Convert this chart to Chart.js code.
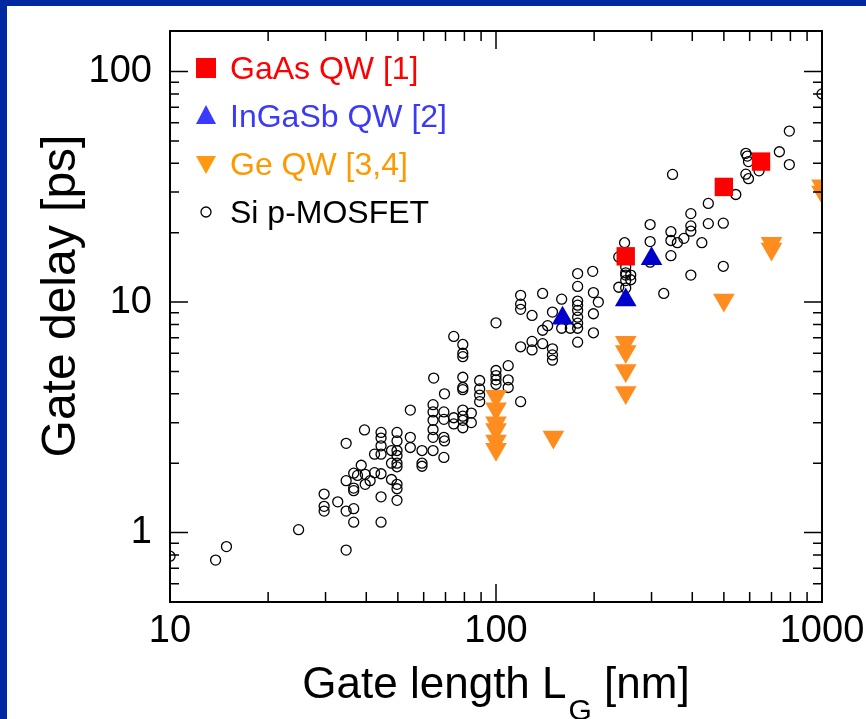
<!DOCTYPE html>
<html>
<head>
<meta charset="utf-8">
<script src="https://cdn.jsdelivr.net/npm/chart.js@4.4.1/dist/chart.umd.min.js"></script>
<style>
  html, body { margin: 0; padding: 0; }
  body { width: 866px; height: 719px; background: #0028a0; overflow: hidden; position: relative; }
  #panel { position: absolute; left: 7px; top: 6px; width: 859px; height: 713px; background: #fff; }
  canvas { display: block; }
</style>
</head>
<body>
<div id="panel"><canvas id="chart" width="859" height="713"></canvas></div>
<script>
// values (gate length nm, gate delay ps)
const seriesLabels = ['GaAs QW [1]', 'InGaSb QW [2]', 'Ge QW [3,4]', 'Si p-MOSFET'];

const gaasX = [250, 500, 650];
const gaasY = [15.8, 31.6, 40.7];

const ingasbX = [160, 250, 300];
const ingasbY = [8.5, 10.2, 15.4];

const geX = [100, 100, 100, 100, 100, 100, 150, 250, 250, 250, 250, 500, 700, 700, 1000, 1000];
const geY = [3.9, 3.45, 3.0, 2.8, 2.5, 2.3, 2.6, 6.7, 6.1, 5.05, 4.05, 10.2, 18, 17, 32, 30];

const siX = [10, 13.8, 14.9, 24.8, 34.7, 29.7, 29.7, 29.7, 32.7, 34.7, 34.7, 34.7, 36.6, 36.6, 36.6, 36.6,
  36.6, 38.6, 37.6, 39.7, 39.7, 41.1, 39.5, 42.4, 42.4, 44.4, 44.4, 44.4, 44.4, 44.4, 44.4, 44.4,
  47.8, 47.8, 47.8, 49.7, 49.7, 49.7, 49.7, 49.7, 49.7, 49.7, 49.7, 49.7, 54.6, 54.6, 54.6, 59.3,
  59.3, 59.3, 64.1, 64.1, 64.1, 64.1, 64.1, 64.1, 69.2, 69.2, 69.2, 69.2, 69.5, 74.2, 74.2, 79.1,
  79.1, 79.1, 79.1, 84, 84, 64.4, 69.5, 74.2, 79.1, 79.1, 79.1, 79.1, 79.1, 79.1, 89.1, 89.1,
  89.1, 89.1, 100, 100, 100, 100, 100, 100, 109, 109, 109, 119, 119, 119, 119, 119,
  129, 129, 129, 139, 139, 139, 149, 149, 149, 149, 159, 159, 169, 178, 178, 178,
  178, 178, 178, 178, 178, 199, 206, 199, 199, 144, 178, 198, 238, 248, 250, 250,
  250, 259, 259, 250, 238, 250, 297, 297, 297, 327, 344, 344, 344, 348, 360, 377,
  396, 396, 396, 396, 428, 448, 448, 498, 498, 544, 584, 590, 595, 641, 584, 595,
  740, 794, 794, 1000];
const siY = [0.79, 0.76, 0.87, 1.03, 0.84, 1.47, 1.30, 1.24, 1.36, 1.24, 1.68, 2.44, 1.27, 1.11, 1.56, 1.52,
  1.81, 1.96, 1.77, 1.79, 1.62, 1.68, 2.79, 2.19, 1.82, 2.72, 2.57, 2.38, 2.19, 1.80, 1.43, 1.11,
  2.27, 2.0, 1.70, 2.72, 2.50, 2.27, 2.16, 2.0, 1.93, 1.62, 1.55, 1.38, 3.4, 2.59, 2.34, 2.27,
  2.0, 1.94, 3.59, 3.34, 3.07, 2.80, 2.59, 2.27, 3.34, 3.1, 2.59, 2.12, 2.50, 3.15, 2.96, 3.4,
  3.2, 3.07, 2.85, 3.3, 3.0, 4.68, 4.0, 7.1, 6.55, 6.0, 5.8, 4.72, 4.26, 4.17, 4.57, 4.2,
  3.95, 3.7, 5.05, 4.8, 4.6, 4.4, 3.95, 8.13, 5.3, 4.6, 4.26, 3.7, 10.7, 9.8, 9.3, 6.4,
  8.75, 6.75, 6.2, 10.9, 7.55, 6.6, 9.05, 6.27, 5.9, 5.6, 10.3, 7.7, 7.7, 11.7, 10.1, 9.7,
  9.2, 8.6, 8.1, 7.7, 6.7, 11.0, 10.0, 8.9, 7.36, 7.9, 13.3, 13.6, 15.7, 18.1, 14.2, 13.4,
  13.1, 13.1, 12.5, 12.4, 11.6, 11.5, 21.7, 18.3, 14.9, 10.9, 20.2, 18.5, 15.9, 35.8, 18.1, 18.9,
  24.2, 21.4, 20.3, 13.1, 18.1, 26.8, 21.9, 22.0, 14.3, 29.3, 44.2, 43.0, 40.7, 37.1, 35.9, 34.3,
  44.9, 55.2, 39.5, 80];

const xTicks = [10, 100, 1000];
const yTicks = [1, 10, 100];

const FONT = "'Liberation Sans', Arial, Helvetica, sans-serif";

function pts(xs, ys) {
  return xs.map((x, i) => ({ x: x, y: ys[i] }));
}

// box round the plot with inward ticks on all four sides
const frame = {
  id: 'frame',
  afterDraw(chart) {
    const ctx = chart.ctx, a = chart.chartArea;
    const xs = chart.scales.x, ys = chart.scales.y;
    ctx.save();
    ctx.strokeStyle = '#000';
    ctx.lineWidth = 1.5;
    ctx.beginPath();
    for (let d = 10; d < 1000; d *= 10) {
      for (let m = 1; m < 10; m++) {
        const v = d * m;
        if (v <= xs.min || v >= xs.max) continue;
        const px = xs.getPixelForValue(v);
        const len = m === 1 ? 18 : 10;
        ctx.moveTo(px, a.bottom); ctx.lineTo(px, a.bottom - len);
        ctx.moveTo(px, a.top); ctx.lineTo(px, a.top + len);
      }
    }
    for (let d = 0.1; d < 200; d *= 10) {
      for (let m = 1; m < 10; m++) {
        const v = d * m;
        if (v <= ys.min + 1e-9 || v >= ys.max) continue;
        const py = ys.getPixelForValue(v);
        const len = m === 1 ? 18 : 9;
        ctx.moveTo(a.left, py); ctx.lineTo(a.left + len, py);
        ctx.moveTo(a.right, py); ctx.lineTo(a.right - len, py);
      }
    }
    ctx.stroke();
    ctx.lineWidth = 2;
    ctx.strokeRect(a.left, a.top, a.right - a.left, a.bottom - a.top);
    ctx.restore();
  }
};

// legend drawn inside the plot, one row per series
const legendBox = {
  id: 'legendBox',
  afterDraw(chart) {
    const ctx = chart.ctx, a = chart.chartArea;
    const cols = ['#ff0000', '#3b3bff', '#ff9a10', '#000000'];
    const textCols = ['#ff0000', '#3b3bf5', '#ff9900', '#000000'];
    ctx.save();
    ctx.font = '32px ' + FONT;
    ctx.textBaseline = 'middle';
    chart.data.datasets.forEach((ds, i) => {
      const cx = a.left + 36, cy = a.top + 37 + i * 48;
      ctx.fillStyle = cols[i];
      ctx.strokeStyle = cols[i];
      ctx.beginPath();
      if (i === 0) {
        ctx.rect(cx - 10, cy - 10, 20, 20);
        ctx.fill();
      } else if (i === 1) {
        ctx.moveTo(cx, cy - 11); ctx.lineTo(cx + 10, cy + 8); ctx.lineTo(cx - 10, cy + 8);
        ctx.closePath(); ctx.fill();
      } else if (i === 2) {
        ctx.moveTo(cx - 10, cy - 8); ctx.lineTo(cx + 10, cy - 8); ctx.lineTo(cx, cy + 10);
        ctx.closePath(); ctx.fill();
      } else {
        ctx.lineWidth = 1.3;
        ctx.arc(cx, cy, 5, 0, Math.PI * 2);
        ctx.stroke();
      }
      ctx.fillStyle = textCols[i];
      ctx.fillText(ds.label, a.left + 60, cy + 2);
    });
    ctx.restore();
  }
};

// axis titles, the x one has a subscript
const titles = {
  id: 'titles',
  afterDraw(chart) {
    const ctx = chart.ctx, a = chart.chartArea;
    ctx.save();
    ctx.fillStyle = '#000';
    ctx.textBaseline = 'alphabetic';
    const big = '44px ' + FONT, small = '30px ' + FONT;
    const p1 = 'Gate length L', p2 = 'G', p3 = ' [nm]';
    ctx.font = big; const w1 = ctx.measureText(p1).width, w3 = ctx.measureText(p3).width;
    ctx.font = small; const w2 = ctx.measureText(p2).width;
    let x0 = (a.left + a.right) / 2 - (w1 + w2 + w3 + 2) / 2;
    const base = 692;
    ctx.font = big; ctx.fillText(p1, x0, base);
    ctx.font = small; ctx.fillText(p2, x0 + w1 + 2, base + 22);
    ctx.font = big; ctx.fillText(p3, x0 + w1 + w2 + 2, base);

    ctx.translate(68, 290);
    ctx.rotate(-Math.PI / 2);
    ctx.textAlign = 'center';
    ctx.font = '48px ' + FONT;
    ctx.fillText('Gate delay [ps]', 0, 0);
    ctx.restore();
  }
};

new Chart(document.getElementById('chart'), {
  type: 'scatter',
  data: {
    datasets: [
      { label: seriesLabels[0], data: pts(gaasX, gaasY), pointStyle: 'rect', pointRadius: 13,
        backgroundColor: '#ff0000', borderColor: '#ff0000', borderWidth: 0 },
      { label: seriesLabels[1], data: pts(ingasbX, ingasbY), pointStyle: 'triangle', pointRadius: 12.5,
        backgroundColor: '#0000cc', borderColor: '#0000cc', borderWidth: 0 },
      { label: seriesLabels[2], data: pts(geX, geY), pointStyle: 'triangle', pointRotation: 180, pointRadius: 12.5,
        backgroundColor: '#ff8c1e', borderColor: '#ff8c1e', borderWidth: 0 },
      { label: seriesLabels[3], data: pts(siX, siY), pointStyle: 'circle', pointRadius: 5,
        backgroundColor: 'rgba(0,0,0,0)', borderColor: '#000', borderWidth: 1.3 }
    ]
  },
  options: {
    responsive: false,
    animation: false,
    layout: { padding: { top: 25, right: 44, left: 0, bottom: 0 } },
    plugins: { legend: { display: false }, tooltip: { enabled: false } },
    scales: {
      x: {
        type: 'logarithmic', min: 10, max: 1000,
        grid: { display: false, drawTicks: false }, border: { display: false },
        afterBuildTicks: s => { s.ticks = xTicks.map(v => ({ value: v })); },
        afterFit: s => { s.height = 117; s.paddingLeft = 0; s.paddingRight = 0; },
        ticks: { font: { family: FONT, size: 38 }, color: '#000', padding: 7, maxRotation: 0,
          autoSkip: false, callback: v => String(v) }
      },
      y: {
        type: 'logarithmic', min: 0.5, max: 150,
        grid: { display: false, drawTicks: false }, border: { display: false },
        afterBuildTicks: s => { s.ticks = yTicks.map(v => ({ value: v })); },
        afterFit: s => { s.width = 163; s.paddingTop = 0; s.paddingBottom = 0; },
        ticks: { font: { family: FONT, size: 38 }, color: '#000', padding: 18,
          autoSkip: false, callback: v => String(v) }
      }
    }
  },
  plugins: [frame, legendBox, titles]
});
</script>
</body>
</html>
